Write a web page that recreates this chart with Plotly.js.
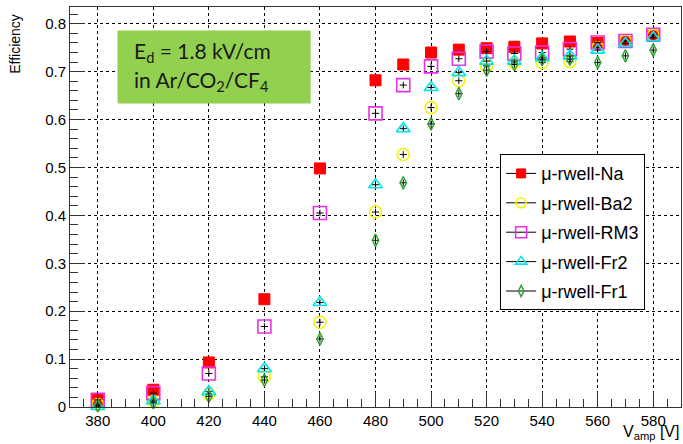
<!DOCTYPE html>
<html>
<head>
<meta charset="utf-8">
<script src="https://cdn.plot.ly/plotly-3.0.1.min.js"></script>
<style>html,body{margin:0;padding:0;background:#fff;} #chart{width:683px;height:444px;}</style>
</head>
<body>
<div id="chart"></div>
<script>
const vamp = [380,400,420,440,460,480,490,500,510,520,530,540,550,560,570,580];
const effNa  = [0.015,0.036,0.093,0.225,0.498,0.682,0.715,0.740,0.746,0.749,0.752,0.759,0.763,0.760,0.762,0.775];
const effBa2 = [0.005,0.011,0.027,0.063,0.177,0.407,0.527,0.625,0.681,0.712,0.718,0.719,0.721,0.750,0.764,0.776];
const effRM3 = [0.015,0.029,0.070,0.168,0.405,0.613,0.672,0.711,0.727,0.742,0.738,0.740,0.747,0.761,0.764,0.777];
const effFr2 = [0.001,0.013,0.032,0.080,0.218,0.464,0.581,0.667,0.698,0.722,0.722,0.729,0.733,0.745,0.759,0.771];
const effFr1 = [0.003,0.009,0.022,0.056,0.142,0.348,0.468,0.591,0.654,0.703,0.715,0.725,0.726,0.719,0.733,0.745];
const seriesNames = ['μ-rwell-Na','μ-rwell-Ba2','μ-rwell-RM3','μ-rwell-Fr2','μ-rwell-Fr1'];
const seriesData = [effNa, effBa2, effRM3, effFr2, effFr1];
const styles = [
  {symbol:'square', color:'#ff0000', size:11, line:{color:'#ff0000', width:1}},
  {symbol:'circle-open', color:'#f5f500', size:12, line:{color:'#f5f500', width:1.6}},
  {symbol:'square-open', color:'#e632e6', size:13, line:{color:'#e632e6', width:1.6}},
  {symbol:'triangle-up-open', color:'#00e6f0', size:12, line:{color:'#00e6f0', width:1.6}},
  {symbol:'diamond-tall-open', color:'#2aa02a', size:9, line:{color:'#2aa02a', width:1.4}}
];
const traces = [];
seriesData.forEach((ys, i) => {
  traces.push({
    x: vamp, y: ys, type:'scatter', mode:'markers', showlegend:false,
    marker: styles[i], cliponaxis:false,
    error_y:{type:'constant', value:0.007, color:'#000', thickness:1, width:0},
    error_x:{type:'constant', value:1.3, color:'#000', thickness:1, width:0}
  });
});
seriesData.forEach((ys, i) => {
  traces.push({
    x:[null], y:[null], type:'scatter', mode:'lines+markers', name: seriesNames[i],
    legendgroup:'g'+i,
    marker: Object.assign({}, styles[i], {size: Math.max(styles[i].size-2, 8)}),
    line:{color:'#000', width:1}
  });
});
const layout = {
  width:683, height:444,
  margin:{l:70, r:2, t:7, b:37},
  paper_bgcolor:'#fff', plot_bgcolor:'#fff',
  font:{family:'Liberation Sans, Arial, sans-serif', color:'#000'},
  showlegend:true,
  legend:{x:0.704, y:0.632, xanchor:'left', yanchor:'top', bgcolor:'#fff',
    bordercolor:'#000', borderwidth:1, font:{size:18, family:'Liberation Sans, Arial, sans-serif'},
    traceorder:'grouped', tracegroupgap:3, itemwidth:30},
  xaxis:{range:[370,590], tick0:380, dtick:20, ticks:'inside', ticklen:15, tickcolor:'#333',
    tickfont:{size:15}, showgrid:true, gridcolor:'#000', griddash:'dot', gridwidth:1,
    showline:true, linecolor:'#333', linewidth:1, mirror:true, zeroline:false,
    minor:{dtick:5, tick0:370, ticks:'inside', ticklen:8, tickcolor:'#333', showgrid:false}},
  yaxis:{range:[0,0.835], tick0:0, dtick:0.1, ticks:'inside', ticklen:15, tickcolor:'#333',
    tickfont:{size:15}, showgrid:true, gridcolor:'#000', griddash:'dot', gridwidth:1,
    showline:true, linecolor:'#333', linewidth:1, mirror:true, zeroline:false,
    tickformat:'.1~f',
    minor:{dtick:0.02, ticks:'inside', ticklen:8, tickcolor:'#333', showgrid:false}},
  shapes:[
    {type:'rect', xref:'paper', yref:'paper', x0:0.0786, x1:0.393, y0:0.76, y1:0.94,
     fillcolor:'#92d050', line:{color:'#92d050', width:1}, layer:'above'}
  ],
  annotations:[
    {xref:'paper', yref:'paper', x:0.102, y:0.887, xanchor:'left', yanchor:'middle', showarrow:false,
     text:'E<sub>d</sub> = 1.8 kV/cm', font:{size:21, family:'Lato, Open Sans, sans-serif', color:'#1a1a1a'}},
    {xref:'paper', yref:'paper', x:0.102, y:0.815, xanchor:'left', yanchor:'middle', showarrow:false,
     text:'in Ar/CO<sub>2</sub>/CF<sub>4</sub>', font:{size:21, family:'Lato, Open Sans, sans-serif', color:'#1a1a1a'}},
    {xref:'paper', yref:'paper', x:-0.089, y:0.907, xanchor:'center', yanchor:'middle', showarrow:false,
     textangle:-90, text:'Efficiency', font:{size:14}},
    {xref:'paper', yref:'paper', x:1, y:-0.0925, xanchor:'right', yanchor:'bottom', showarrow:false,
     text:'V<sub>amp</sub> [V]', font:{size:16}}
  ]
};
Plotly.newPlot('chart', traces, layout, {displayModeBar:false, staticPlot:true});
</script>
</body>
</html>
